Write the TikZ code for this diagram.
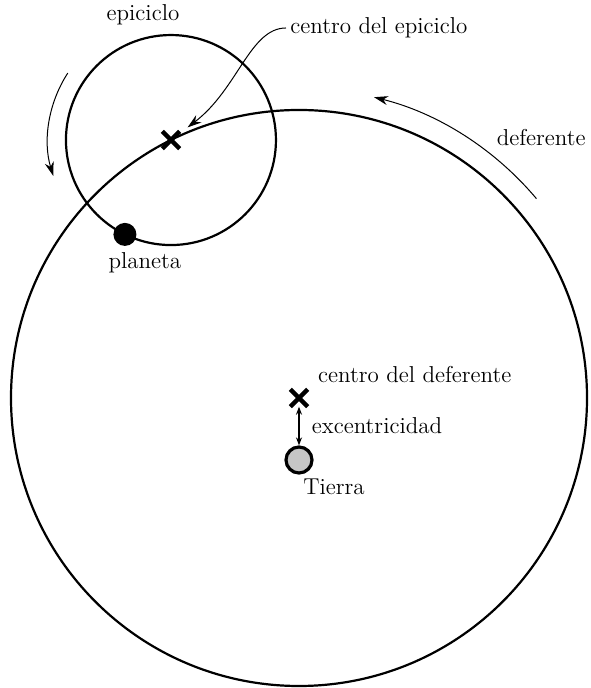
\documentclass[tikz,border=0pt]{standalone}
\usepackage{tikz}
\usetikzlibrary{positioning, arrows.meta, shapes.misc}

\begin{document}
\begin{tikzpicture}[x=0.5pt, y=0.5pt, >=Stealth,
    lbl/.style={font=\fontsize{11.5}{14}\selectfont, inner sep=2pt},
    orbit/.style={line width=1.1pt},
    centermark/.style={draw, cross out, line width=2.2pt, minimum size=6.5pt, inner sep=0pt},
    motion/.style={->, line width=0.5pt, >={Stealth[length=7pt, width=4.5pt]}}]
    \useasboundingbox (0,0) rectangle (590,688);

    % deferente y epiciclo
    \coordinate (D) at (299,290);
    \coordinate (E) at ([shift={(116.4:288)}]D);
    \draw[orbit] (D) circle (288);
    \draw[orbit] (E) circle (105);

    \node[centermark] (dc) at (D) {};
    \node[centermark] (ec) at (E) {};
    \node[circle, fill, minimum size=11.5pt, inner sep=0pt] (planet) at ([shift={(244:105)}]E) {};
    \node[circle, draw, fill=gray!45, line width=1.6pt, minimum size=13pt, inner sep=0pt] (earth) at (299,228) {};

    % textos
    \node[lbl] (epilbl) at (143,673) {epiciclo};
    \node[lbl, anchor=west] (eclbl) at (286,660) {centro del epiciclo};
    \node[lbl, anchor=east] (deflbl) at (590,550) {deferente};
    \node[lbl, below=1pt of planet, xshift=10pt] (planetlbl) {planeta};
    \node[lbl, above right=1pt and 3pt of dc] (dclbl) {centro del deferente};
    \node[lbl, anchor=north west] (tierra) at (earth.south) {Tierra};

    % flechas
    \draw[<->, line width=0.9pt, >={Stealth[length=4pt, width=3pt]}] (dc) -- (earth)
        node[lbl, midway, right, xshift=4pt] (exlbl) {excentricidad};
    \draw[motion, shorten >=5pt] (eclbl.west) .. controls +(-36,0) and +(67,51) .. (ec);
    \draw[motion] ([shift={(147:123)}]E) arc[start angle=147, end angle=197, radius=123];
    \draw[motion] ([shift={(40:310)}]D) arc[start angle=40, end angle=76, radius=310];
\end{tikzpicture}
\end{document}
